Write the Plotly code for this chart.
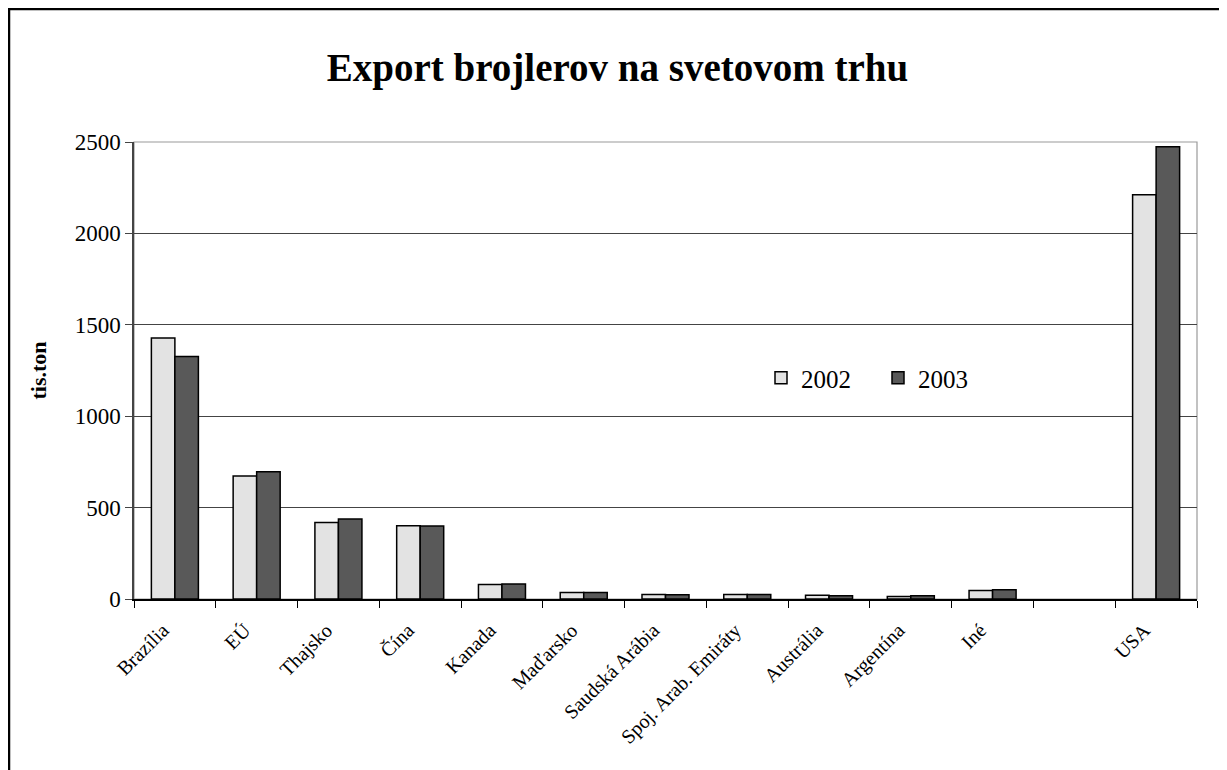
import plotly.graph_objects as go

categories = ["Brazília", "EÚ", "Thajsko", "Čína", "Kanada", "Maďarsko",
              "Saudská Arábia", "Spoj. Arab. Emiráty", "Austrália", "Argentína",
              "Iné", " ", "USA"]
values_2002 = [1428, 673, 419, 401, 80, 35, 24, 24, 20, 13, 47, None, 2212]
values_2003 = [1326, 696, 437, 400, 82, 35, 23, 24, 18, 18, 51, None, 2474]
y_ticks = [0, 500, 1000, 1500, 2000, 2500]

FONT = "Liberation Serif"
# page body has an 8px margin, so figure pixel = screen pixel - 8
W, H = 1219, 762
ML, MR, MT, MB = 126, 30, 134, 171
PW, PH = W - ML - MR, H - MT - MB

fig = go.Figure()
fig.add_trace(go.Bar(name="2002", x=categories, y=values_2002,
                     marker=dict(color="#e3e3e3", line=dict(color="black", width=1.5))))
fig.add_trace(go.Bar(name="2003", x=categories, y=values_2003,
                     marker=dict(color="#595959", line=dict(color="black", width=1.5))))

# plot area frame (gray) and outer chart border (black)
fig.add_shape(type="rect", xref="paper", yref="paper", x0=0, x1=1, y0=0, y1=1,
              line=dict(color="#9a9a9a", width=1.2), layer="below")
fig.add_shape(type="rect", xref="paper", yref="paper",
              x0=(1 - ML) / PW, x1=1.3, y0=-0.7, y1=(H - MB - 1) / PH,
              line=dict(color="black", width=2.5))

fig.update_layout(
    width=W, height=H,
    margin=dict(l=ML, r=MR, t=MT, b=MB, autoexpand=False),
    paper_bgcolor="white", plot_bgcolor="white",
    barmode="group", bargap=0.425, bargroupgap=0,
    font=dict(family=FONT, color="black"),
    title=dict(text="<b>Export brojlerov na svetovom trhu</b>",
               font=dict(family=FONT, size=39, color="black"),
               x=0.5, xanchor="center", y=1 - 59 / H, yanchor="middle"),
    legend=dict(orientation="h", x=(753 - ML) / PW, xanchor="left",
                y=(H - MB - 370) / PH, yanchor="middle",
                font=dict(family=FONT, size=25, color="black"),
                bgcolor="rgba(0,0,0,0)", entrywidth=72, entrywidthmode="pixels"),
    showlegend=True,
)
fig.update_xaxes(
    type="category", categoryorder="array", categoryarray=categories,
    tickson="boundaries", ticks="outside", ticklen=7, tickcolor="black", tickwidth=1.2,
    showline=True, linecolor="black", linewidth=1.5,
    tickangle=-45, tickfont=dict(family=FONT, size=20, color="black"),
    ticklabelshift=-12, ticklabelstandoff=10,
    showgrid=False, zeroline=False,
)
fig.update_yaxes(
    range=[0, 2500], tickvals=y_ticks,
    ticks="outside", ticklen=7, tickcolor="#444", tickwidth=1.2,
    showline=True, linecolor="#444", linewidth=1.5,
    showgrid=True, gridcolor="#444", gridwidth=1,
    zeroline=False,
    tickfont=dict(family=FONT, size=23, color="black"),
    title=dict(text="<b>tis.ton</b>", font=dict(family=FONT, size=22, color="black"), standoff=22),
)

fig.write_html("out.html")
